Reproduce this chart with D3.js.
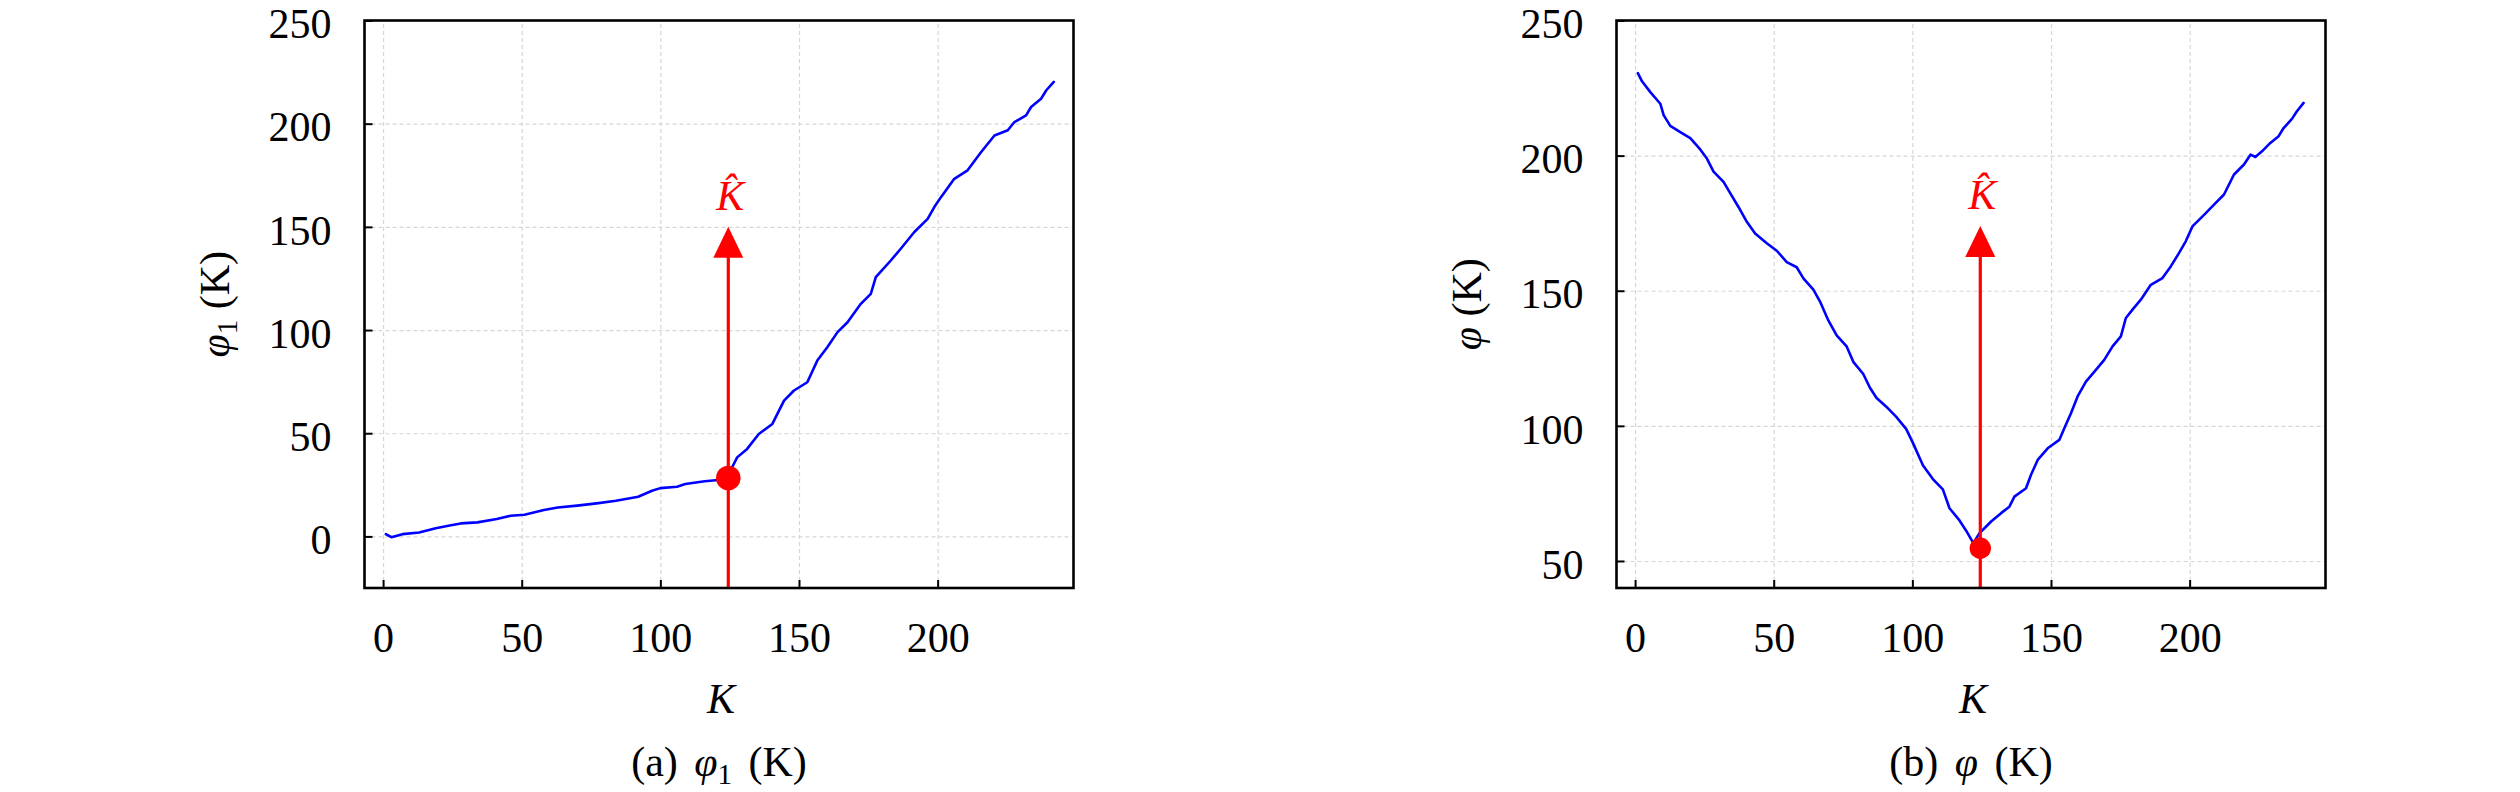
<!DOCTYPE html>
<html>
<head>
<meta charset="utf-8">
<script src="https://cdn.jsdelivr.net/npm/d3@7"></script>
<style>
  html, body { margin: 0; padding: 0; background: #fff; }
  svg { display: block; }
  text { font-family: "Liberation Serif", "Times New Roman", serif; fill: #000; }
</style>
</head>
<body>
<div id="container"></div>
<script>
"use strict";

const width = 2520;
const height = 792;

// ticks
const kTicks = [0, 50, 100, 150, 200];
const phi1Ticks = [0, 50, 100, 150, 200, 250];
const phiTicks = [50, 100, 150, 200, 250];

// (a) phi_1(K)
const phi1K = [1, 3, 7, 13, 19, 24, 28, 34, 41, 46, 51, 58, 63, 70, 77, 84, 92, 97, 100, 106, 109, 116, 121, 124,
  125.9, 127.7, 131.3, 135.5, 140.4, 144.6, 148.2, 153, 156.6, 160.2, 163.9, 167.5, 172.3, 175.9, 177.7,
  183.1, 186.7, 191.6, 196.4, 198.8, 201.2, 206, 210.8, 215.7, 220.5, 225.3, 227.7, 231.9, 233.7, 237.3, 239.2, 241.9];
const phi1Values = [1.1, -0.4, 1.1, 1.9, 4.0, 5.3, 6.3, 6.8, 8.4, 10.0, 10.5, 12.8, 14.0, 14.9, 16.0, 17.3, 19.2, 22.1, 23.4, 24.1, 25.4, 26.7, 27.3, 28.0,
  33.5, 38.3, 42.4, 49.6, 54.5, 65.8, 70.7, 74.7, 85.2, 91.7, 99.0, 103.8, 112.7, 117.5, 125.6,
  133.7, 139.4, 147.5, 153.9, 159.6, 164.4, 173.3, 177.4, 186.3, 194.3, 196.8, 200.8, 204.0, 208.1, 212.1, 216.2, 220.2];

// (b) phi(K)
const phiK = [1, 2.5, 5.5, 9.1, 10.3, 12.7, 16.3, 19.9, 23.5, 25.9, 28.3, 31.9, 34.3, 37.3, 40.3, 43.3, 47.5, 51.1,
  54.7, 58.3, 60.7, 64.3, 66.7, 69.7, 72.7, 76.3, 78.7, 82.3, 84.7, 87.1, 90.6, 94.2, 97.8, 100.2, 103.8,
  107.4, 111, 113.4, 117, 119.4, 122, 124.2, 126, 128.4, 132, 135, 136.8, 141, 142.8, 145.2, 148.8, 153,
  154.8, 157.2, 159.6, 162.6, 166.2, 169.2, 172.2, 175.2, 177, 179.4, 182.4, 186, 190.2, 193.2, 196.2,
  198.6, 201, 205.2, 208.8, 212.4, 216, 219.6, 222, 223.7, 226.1, 229.1, 232.1, 233.9, 236.9, 238.7, 241.1];
const phiValues = [230.5, 227.5, 223.5, 219.2, 215.0, 211.0, 208.7, 206.5, 202.3, 198.9, 194.1, 190.3, 186.1, 181.0, 175.5, 171.2, 167.6, 164.8,
  160.6, 158.7, 154.6, 150.4, 146.0, 139.0, 133.5, 129.4, 123.7, 119.2, 114.1, 110.3, 107.1, 103.3, 98.8, 93.7, 85.4,
  80.3, 76.5, 69.5, 65.0, 61.2, 56.6, 60.3, 62.1, 64.6, 67.7, 70.1, 73.8, 76.9, 81.9, 87.4, 91.7, 94.8,
  99.1, 104.7, 110.9, 116.4, 120.7, 124.4, 129.4, 133.1, 139.9, 143.0, 146.7, 152.2, 154.7, 159.0, 164.0,
  168.3, 173.8, 178.1, 181.9, 185.6, 193.0, 196.7, 200.4, 199.5, 201.6, 204.7, 207.2, 210.2, 213.6, 216.4, 219.5];

// estimated K-hat marker
const kHat = 124.5;
const phi1AtKHat = 28.3;
const phiAtKHat = 54.7;
const phi1ArrowTop = 150;
const phiArrowTop = 174;

const fontSize = 42;
const blue = "#0000ff";
const red = "#ff0000";

const svg = d3
  .select("#container")
  .append("svg")
  .attr("width", width)
  .attr("height", height);

svg.append("rect").attr("width", width).attr("height", height).attr("fill", "#fff");

const drawPanel = (p) => {
  const xScale = d3.scaleLinear().domain([-6.7, 249]).range([p.left, p.left + 709]);
  const yScale = d3.scaleLinear().domain(p.yDomain).range([588, 20.5]);
  const top = 20.5;
  const bottom = 588;
  const g = svg.append("g");

  // grid
  g.append("g")
    .attr("transform", `translate(0, ${bottom})`)
    .call(d3.axisBottom(xScale).tickValues(kTicks).tickSize(-(bottom - top)).tickFormat(""))
    .call((s) => s.select(".domain").remove())
    .selectAll("line")
    .attr("stroke", "#d6d6d6")
    .attr("stroke-width", 1.2)
    .attr("stroke-dasharray", "4,3");

  g.append("g")
    .attr("transform", `translate(${p.left}, 0)`)
    .call(d3.axisLeft(yScale).tickValues(p.yTicks.filter((t) => t < 250)).tickSize(-709).tickFormat(""))
    .call((s) => s.select(".domain").remove())
    .selectAll("line")
    .attr("stroke", "#d6d6d6")
    .attr("stroke-width", 1.2)
    .attr("stroke-dasharray", "4,3");

  // curve
  const line = d3
    .line()
    .x((d) => xScale(d[0]))
    .y((d) => yScale(d[1]));

  g.append("path")
    .datum(p.k.map((k, i) => [k, p.values[i]]))
    .attr("d", line)
    .attr("fill", "none")
    .attr("stroke", blue)
    .attr("stroke-width", 2.6)
    .attr("stroke-linejoin", "round")
    .attr("stroke-linecap", "round");

  // K-hat arrow
  const ax = xScale(kHat);
  const tipY = yScale(p.arrowTop);
  g.append("line")
    .attr("x1", ax)
    .attr("x2", ax)
    .attr("y1", bottom)
    .attr("y2", tipY + 28)
    .attr("stroke", red)
    .attr("stroke-width", 3.2);

  g.append("path")
    .attr("d", `M${ax},${tipY} L${ax - 15},${tipY + 31} L${ax + 15},${tipY + 31} Z`)
    .attr("fill", red);

  // K with a combining circumflex
  g.append("text")
    .attr("x", ax + 2)
    .attr("y", tipY - 17)
    .attr("text-anchor", "middle")
    .style("font-size", fontSize + "px")
    .style("font-style", "italic")
    .style("fill", red)
    .text("K\u0302");

  g.append("circle")
    .attr("cx", ax)
    .attr("cy", yScale(p.markerValue))
    .attr("r", p.markerRadius)
    .attr("fill", red);

  // frame
  g.append("rect")
    .attr("x", p.left)
    .attr("y", top)
    .attr("width", 709)
    .attr("height", bottom - top)
    .attr("fill", "none")
    .attr("stroke", "#000")
    .attr("stroke-width", 2.6);

  // axes
  const xAxis = g
    .append("g")
    .attr("transform", `translate(0, ${bottom})`)
    .call(d3.axisBottom(xScale).tickValues(kTicks).tickSize(-8).tickPadding(34));
  const yAxis = g
    .append("g")
    .attr("transform", `translate(${p.left}, 0)`)
    .call(d3.axisLeft(yScale).tickValues(p.yTicks).tickSize(-8).tickPadding(33));

  [xAxis, yAxis].forEach((a) => {
    a.select(".domain").remove();
    a.selectAll("line").attr("stroke", "#000").attr("stroke-width", 2);
    a.selectAll("text")
      .style("font-family", '"Liberation Serif", serif')
      .style("font-size", fontSize + "px")
      .attr("fill", "#000");
  });
  yAxis.selectAll("text").attr("dy", "0.41em");

  const cx = p.left + 709 / 2;

  g.append("text")
    .attr("x", cx + 2)
    .attr("y", 713)
    .attr("text-anchor", "middle")
    .style("font-size", fontSize + "px")
    .style("font-style", "italic")
    .text("K");

  // y label
  const yl = g
    .append("text")
    .attr("text-anchor", "middle")
    .attr("transform", `translate(${p.left - 136}, ${(top + bottom) / 2}) rotate(-90)`)
    .style("font-size", fontSize + "px");
  yl.append("tspan").style("font-style", "italic").text("φ");
  if (p.sub) {
    yl.append("tspan").attr("dy", 8).style("font-size", "29px").text(p.sub);
    yl.append("tspan").attr("dy", -8).text(" (K)");
  } else {
    yl.append("tspan").text(" (K)");
  }

  // caption
  const cap = g
    .append("text")
    .attr("x", cx)
    .attr("y", 776)
    .attr("text-anchor", "middle")
    .style("font-size", fontSize + "px")
    .style("word-spacing", "6px");
  cap.append("tspan").text(p.tag + " ");
  cap.append("tspan").style("font-style", "italic").text("φ");
  if (p.sub) {
    cap.append("tspan").attr("dy", 8).style("font-size", "29px").text(p.sub);
    cap.append("tspan").attr("dy", -8).text(" (K)");
  } else {
    cap.append("tspan").text(" (K)");
  }
};

drawPanel({
  left: 364.5,
  yDomain: [-25, 250],
  yTicks: phi1Ticks,
  k: phi1K,
  values: phi1Values,
  markerValue: phi1AtKHat,
  markerRadius: 12.3,
  arrowTop: phi1ArrowTop,
  tag: "(a)",
  sub: "1",
});

drawPanel({
  left: 1616.5,
  yDomain: [40, 250],
  yTicks: phiTicks,
  k: phiK,
  values: phiValues,
  markerValue: phiAtKHat,
  markerRadius: 10.7,
  arrowTop: phiArrowTop,
  tag: "(b)",
  sub: "",
});
</script>
</body>
</html>
